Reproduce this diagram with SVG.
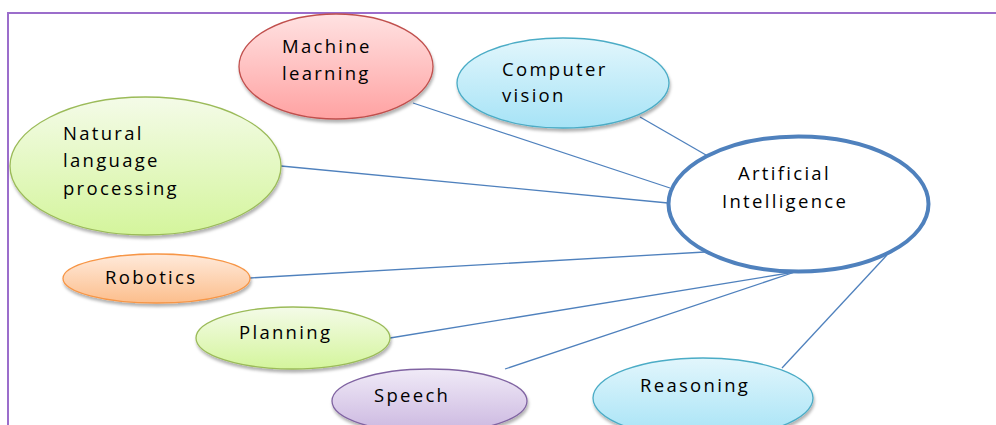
<svg xmlns="http://www.w3.org/2000/svg" width="996" height="425" viewBox="0 0 996 425">
<defs>
<filter id="sh" x="-10%" y="-10%" width="125%" height="135%"><feDropShadow dx="1" dy="3" stdDeviation="1.5" flood-color="#000" flood-opacity="0.3"/></filter>
<linearGradient id="gRed" x1="0" y1="0" x2="0" y2="1"><stop offset="0" stop-color="#FFE2E2"/><stop offset="1" stop-color="#FFA2A2"/></linearGradient>
<linearGradient id="gBlue" x1="0" y1="0" x2="0" y2="1"><stop offset="0" stop-color="#E2F6FC"/><stop offset="1" stop-color="#A6E3F6"/></linearGradient>
<linearGradient id="gGreen" x1="0" y1="0" x2="0" y2="1"><stop offset="0" stop-color="#F4FBE8"/><stop offset="1" stop-color="#D4F59C"/></linearGradient>
<linearGradient id="gOrange" x1="0" y1="0" x2="0" y2="1"><stop offset="0" stop-color="#FFEADB"/><stop offset="1" stop-color="#FCBE8C"/></linearGradient>
<linearGradient id="gPurple" x1="0" y1="0" x2="0" y2="1"><stop offset="0" stop-color="#F0EAF7"/><stop offset="1" stop-color="#CBB7E0"/></linearGradient>
</defs>
<style>
text{font-family:"Open Sans","Liberation Sans",sans-serif;font-size:18.5px;font-weight:500;letter-spacing:2.3px;fill:#000}
.conn line{stroke:#4F81BD;stroke-width:1.3}
.n{filter:url(#sh)}
</style>
<path d="M8 425 V13 H996" fill="none" stroke="#9B6DCB" stroke-width="2"/>
<g class="conn" id="connectors">
<line x1="413" y1="103" x2="670" y2="188"/>
<line x1="281" y1="166" x2="668" y2="203"/>
<line x1="640" y1="117" x2="706" y2="155"/>
<line x1="250" y1="278" x2="705" y2="252"/>
<line x1="390" y1="338" x2="795" y2="272"/>
<line x1="505" y1="369" x2="795" y2="272"/>
<line x1="782" y1="368" x2="887" y2="255"/>
</g>
<g id="ml"><ellipse class="n" cx="336" cy="66.5" rx="97" ry="52.5" fill="url(#gRed)" stroke="#C0504D" stroke-width="1.3"/><text x="282" y="53">Machine</text><text x="282" y="80">learning</text></g>
<g id="cv"><ellipse class="n" cx="563" cy="83" rx="106" ry="45" fill="url(#gBlue)" stroke="#4BACC6" stroke-width="1.3"/><text x="502" y="76">Computer</text><text x="502" y="102">vision</text></g>
<g id="nlp"><ellipse class="n" cx="145.5" cy="166" rx="135.5" ry="69" fill="url(#gGreen)" stroke="#9BBB59" stroke-width="1.3"/><text x="63" y="140">Natural</text><text x="63" y="167">language</text><text x="63" y="195">processing</text></g>
<g id="ai"><ellipse cx="798.5" cy="204" rx="130" ry="67.5" fill="#fff" stroke="#4F81BD" stroke-width="4"/><text x="738" y="180">Artificial</text><text x="722" y="208">Intelligence</text></g>
<g id="robotics"><ellipse class="n" cx="156.5" cy="278.5" rx="93.5" ry="24.5" fill="url(#gOrange)" stroke="#F79646" stroke-width="1.3"/><text x="105" y="284">Robotics</text></g>
<g id="planning"><ellipse class="n" cx="293" cy="338" rx="97" ry="31" fill="url(#gGreen)" stroke="#9BBB59" stroke-width="1.3"/><text x="239" y="339">Planning</text></g>
<g id="speech"><ellipse class="n" cx="429.5" cy="401" rx="97.5" ry="32" fill="url(#gPurple)" stroke="#8064A2" stroke-width="1.3"/><text x="374" y="402">Speech</text></g>
<g id="reasoning"><ellipse class="n" cx="703" cy="398" rx="110" ry="40" fill="url(#gBlue)" stroke="#4BACC6" stroke-width="1.3"/><text x="640" y="392">Reasoning</text></g>
</svg>
